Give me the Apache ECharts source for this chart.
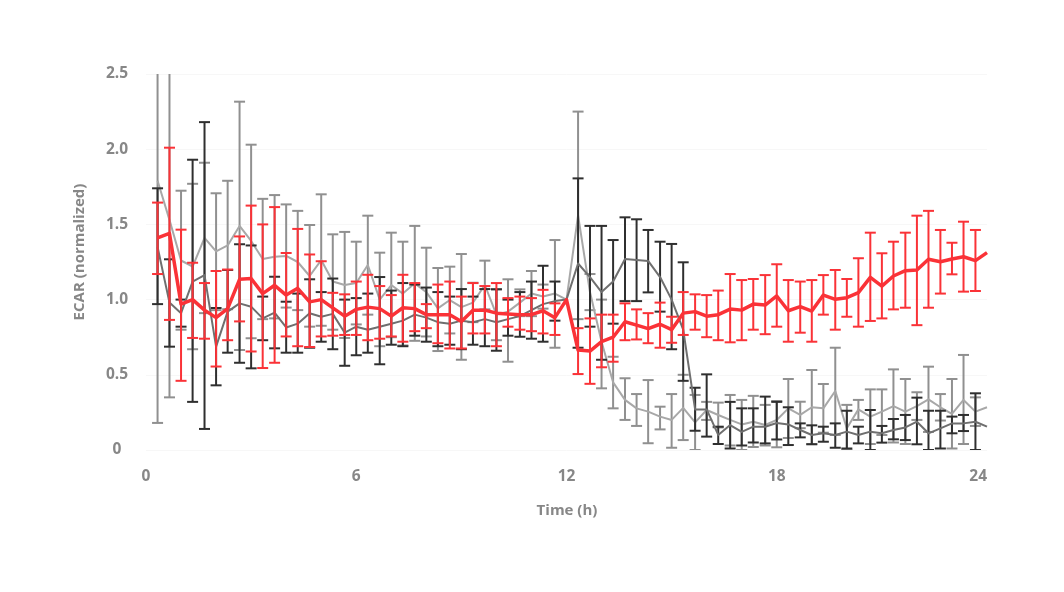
<!DOCTYPE html>
<html>
<head>
<meta charset="utf-8">
<script src="https://cdn.jsdelivr.net/npm/echarts@6/dist/echarts.min.js"></script>
<style>html,body{margin:0;padding:0;background:#fff}#c{width:1064px;height:592px}</style>
</head>
<body>
<div id="c"></div>
<script>
// Time points (h), every 20 min
const times = [0.33,0.67,1,1.33,1.67,2,2.33,2.67,3,3.33,3.67,4,4.33,4.67,5,5.33,5.67,6,
  6.33,6.67,7,7.33,7.67,8,8.33,8.67,9,9.33,9.67,10,10.33,10.67,11,11.33,11.67,12,
  12.33,12.67,13,13.33,13.67,14,14.33,14.67,15,15.33,15.67,16,16.33,16.67,17,17.33,17.67,18,
  18.33,18.67,19,19.33,19.67,20,20.33,20.67,21,21.33,21.67,22,22.33,22.67,23,23.33,23.67,24];

const yTicks = ['0','0.5','1.0','1.5','2.0','2.5'];
const xTicks = ['0','6','12','18','24'];

// Red series
const redMean = [1.41,1.44,0.97,1.00,0.93,0.88,0.94,1.135,1.14,1.04,1.095,1.03,1.075,0.985,1.0,0.945,0.89,0.935,
  0.95,0.94,0.89,0.946,0.94,0.90,0.90,0.90,0.855,0.93,0.93,0.91,0.905,0.90,0.90,0.926,0.88,1.0,
  0.665,0.658,0.72,0.75,0.853,0.83,0.807,0.836,0.80,0.91,0.92,0.89,0.90,0.937,0.93,0.97,0.964,1.024,
  0.926,0.953,0.924,1.03,1.002,1.013,1.046,1.148,1.09,1.157,1.192,1.197,1.268,1.252,1.27,1.285,1.259,1.312];
const redHi = [1.645,2.01,1.465,1.245,1.11,1.19,1.2,1.42,1.625,1.50,1.615,1.31,1.47,1.30,1.255,1.045,1.035,1.12,
  1.165,1.09,1.03,1.165,1.11,0.97,1.10,1.12,1.02,1.11,1.09,1.11,1.01,1.02,1.01,1.065,0.975,null,
  0.81,0.875,0.90,0.90,0.975,0.935,0.91,0.98,0.886,1.05,1.035,1.03,1.06,1.17,1.13,1.137,1.163,1.235,
  1.13,1.12,1.13,1.163,1.197,1.137,1.275,1.445,1.308,1.385,1.445,1.558,1.59,1.463,1.378,1.518,1.463,null];
const redLo = [1.17,0.865,0.46,0.745,0.74,0.555,0.73,0.855,0.655,0.545,0.58,0.755,0.69,0.685,0.755,0.76,0.765,0.765,
  0.73,0.74,0.755,0.72,0.79,0.81,0.71,0.675,0.675,0.775,0.775,0.69,0.82,0.80,0.79,0.775,0.765,null,
  0.505,0.44,0.55,0.587,0.73,0.735,0.71,0.68,0.713,0.765,0.80,0.75,0.73,0.716,0.73,0.80,0.77,0.82,
  0.72,0.78,0.72,0.90,0.80,0.886,0.82,0.858,0.875,0.935,0.946,0.83,0.946,1.04,1.168,1.053,1.057,null];

// Light grey series
const lightMean = [1.79,1.53,1.26,1.22,1.41,1.32,1.36,1.49,1.39,1.27,1.285,1.29,1.25,1.157,1.263,1.12,1.097,1.11,
  1.23,1.0,1.097,1.04,1.108,1.05,0.942,0.997,0.95,0.98,1.097,0.9,0.92,0.98,1.04,1.02,1.04,1.0,
  1.56,1.05,0.72,0.45,0.333,0.277,0.255,0.222,0.2,0.28,0.184,0.266,0.233,0.2,0.17,0.188,0.166,0.2,
  0.277,0.233,0.284,0.277,0.392,0.144,0.27,0.222,0.255,0.292,0.255,0.292,0.337,0.284,0.24,0.333,0.255,0.284];
const lightHi = [3.4,2.71,1.724,1.77,1.91,1.707,1.79,2.316,2.03,1.67,1.695,1.633,1.59,1.496,1.70,1.434,1.45,1.385,
  1.558,1.312,1.445,1.385,1.49,1.345,1.21,1.219,1.303,1.112,1.259,1.07,1.135,1.068,1.19,1.1,1.396,null,
  2.25,1.17,1.0,0.62,0.477,0.372,0.465,0.288,0.372,0.5,0.366,0.32,0.315,0.366,0.333,0.36,0.3,0.326,
  0.472,0.321,0.532,0.439,0.68,0.3,0.333,0.403,0.403,0.536,0.472,0.384,0.554,0.372,0.472,0.632,0.35,null];
const lightLo = [0.18,0.35,0.80,0.67,0.91,0.93,0.936,0.665,0.743,0.87,0.875,0.947,0.93,0.82,0.826,0.8,0.745,0.835,
  0.90,0.69,0.75,0.695,0.726,0.755,0.658,0.775,0.6,0.85,0.935,0.73,0.587,0.89,0.89,0.94,0.68,null,
  0.87,0.93,0.41,0.277,0.2,0.16,0.045,0.137,0.015,0.066,0.0,0.2,0.15,0.03,0.0,0.02,0.03,0.018,
  0.08,0.145,0.04,0.115,0.1,0.0,0.2,0.04,0.1,0.05,0.04,0.2,0.12,0.196,0.01,0.04,0.16,null];

// Dark grey series
const darkMean = [1.35,0.98,0.91,1.12,1.163,0.687,0.92,0.975,0.953,0.875,0.914,0.815,0.84,0.909,0.886,0.905,0.78,0.82,
  0.80,0.82,0.84,0.86,0.90,0.88,0.85,0.84,0.86,0.85,0.87,0.85,0.87,0.89,0.93,0.97,0.99,1.0,
  1.24,1.15,1.05,1.12,1.27,1.263,1.257,1.15,1.0,0.8,0.27,0.27,0.1,0.166,0.12,0.155,0.155,0.18,
  0.17,0.133,0.1,0.111,0.1,0.122,0.1,0.122,0.111,0.133,0.15,0.188,0.111,0.144,0.177,0.177,0.188,0.155];
const darkHi = [1.74,1.268,1.0,1.93,2.18,0.944,1.197,1.368,1.36,1.02,1.152,0.986,1.04,1.135,1.05,1.14,1.0,1.01,
  1.04,1.15,1.06,1.11,1.1,1.08,1.05,1.02,1.07,1.02,1.07,1.068,1.0,1.05,1.12,1.225,1.12,null,
  1.806,1.49,1.49,1.396,1.547,1.534,1.463,1.385,1.37,1.248,0.414,0.503,0.155,0.32,0.277,0.277,0.355,0.32,
  0.284,0.177,0.164,0.155,0.177,0.261,0.155,0.266,0.16,0.206,0.233,0.348,0.261,0.261,0.222,0.233,0.377,null];
const darkLo = [0.97,0.687,0.82,0.32,0.14,0.43,0.647,0.58,0.543,0.73,0.676,0.647,0.647,0.68,0.72,0.67,0.56,0.63,
  0.647,0.57,0.70,0.69,0.76,0.72,0.69,0.70,0.67,0.70,0.69,0.66,0.76,0.753,0.74,0.72,0.86,null,
  0.68,0.82,0.6,0.84,0.99,0.99,1.048,0.92,0.67,0.46,0.128,0.089,0.04,0.01,0.03,0.05,0.044,0.07,
  0.033,0.084,0.038,0.055,0.015,0.01,0.044,0.0,0.049,0.071,0.066,0.038,0.0,0.01,0.111,0.126,0.0,null];

const RED = '#fa3237', LIGHT = '#a8a8a8', LIGHT_BAR = '#909090', DARK = '#6f6f6f', DARK_BAR = '#2f2f2f';

function pts(mean) { return times.map((t, i) => [t, mean[i]]); }
function bars(lo, hi) {
  const out = [];
  times.forEach((t, i) => { if (lo[i] != null && hi[i] != null) out.push([t, lo[i], hi[i]]); });
  return out;
}
function errSeries(name, lo, hi, color, lw, z) {
  return {
    type: 'custom', name: name, z: z, clip: true, silent: true,
    data: bars(lo, hi),
    encode: { x: 0, y: [1, 2] },
    renderItem: function (params, api) {
      const x = api.value(0);
      const a = api.coord([x, api.value(1)]);
      const b = api.coord([x, api.value(2)]);
      const w = 5.5;
      const st = { stroke: color, lineWidth: lw };
      return {
        type: 'group', children: [
          { type: 'line', shape: { x1: a[0], y1: a[1], x2: b[0], y2: b[1] }, style: st },
          { type: 'line', shape: { x1: a[0] - w, y1: a[1], x2: a[0] + w, y2: a[1] }, style: st },
          { type: 'line', shape: { x1: b[0] - w, y1: b[1], x2: b[0] + w, y2: b[1] }, style: st }
        ]
      };
    }
  };
}
function lineSeries(name, mean, color, lw, z) {
  return {
    type: 'line', name: name, data: pts(mean), z: z, symbol: 'none', silent: true,
    lineStyle: { color: color, width: lw, join: 'round' }, clip: true, animation: false
  };
}

const FONT = '"Open Sans", Lato, sans-serif';
const txt = { color: '#878787', fontFamily: FONT, fontWeight: 'bold', fontSize: 15.5 };
const chart = echarts.init(document.getElementById('c'), null, { renderer: 'canvas' });
chart.setOption({
  animation: false,
  backgroundColor: '#ffffff',
  grid: { left: 146, right: 77, top: 74, bottom: 142 },
  xAxis: {
    type: 'value', min: 0, max: 24, interval: 6,
    axisLine: { show: false }, axisTick: { show: false }, splitLine: { show: false },
    axisLabel: Object.assign({ margin: 19, alignMaxLabel: 'right',
      formatter: v => xTicks[Math.round(v / 6)] }, txt)
  },
  yAxis: {
    type: 'value', min: 0, max: 2.5, interval: 0.5,
    axisLine: { show: false }, axisTick: { show: false },
    splitLine: { show: true, lineStyle: { color: '#f7f7f7', width: 1 } },
    axisLabel: Object.assign({ margin: 29, align: 'center',
      formatter: v => yTicks[Math.round(v / 0.5)] }, txt)
  },
  graphic: [
    { type: 'text', x: 567, y: 511,
      style: { text: 'Time (h)', font: 'bold 15px ' + FONT, fill: '#878787', textAlign: 'center', textVerticalAlign: 'middle' } },
    { type: 'text', x: 80, y: 252, rotation: Math.PI / 2,
      style: { text: 'ECAR (normalized)', font: 'bold 15px ' + FONT, fill: '#878787', textAlign: 'center', textVerticalAlign: 'middle' } }
  ],
  series: [
    errSeries('lightErr', lightLo, lightHi, LIGHT_BAR, 2, 1),
    lineSeries('light', lightMean, LIGHT, 2, 2),
    errSeries('darkErr', darkLo, darkHi, DARK_BAR, 2, 3),
    lineSeries('dark', darkMean, DARK, 2, 4),
    errSeries('redErr', redLo, redHi, RED, 2, 5),
    lineSeries('red', redMean, RED, 3.5, 6)
  ]
});
</script>
</body>
</html>
